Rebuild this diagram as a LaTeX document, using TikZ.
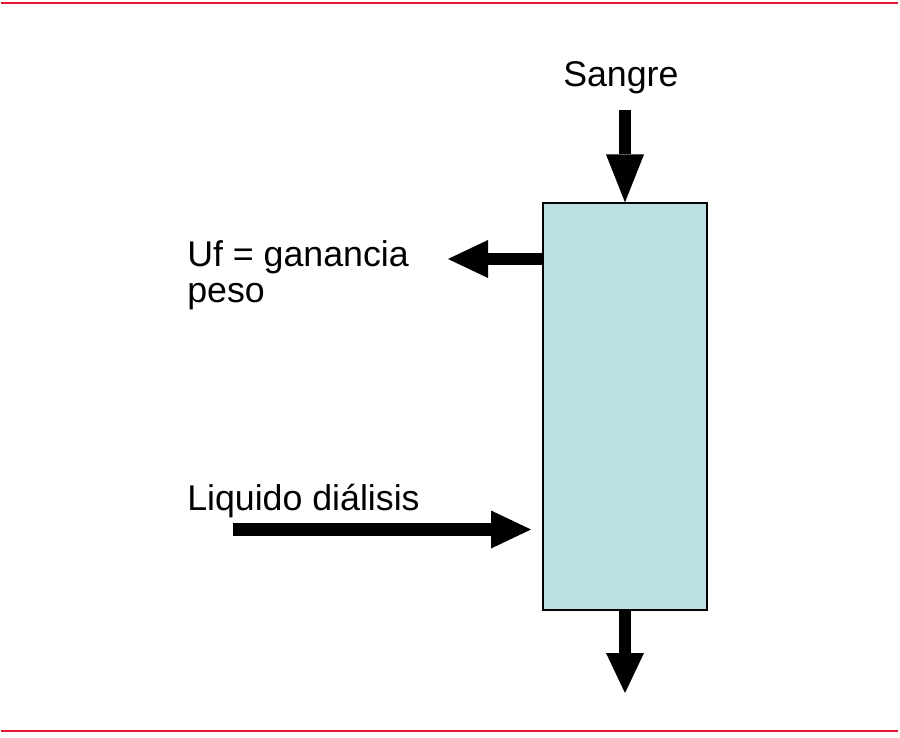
\documentclass[tikz,border=0pt]{standalone}
\usepackage{fontspec}
\setmainfont{Liberation Sans}
\usetikzlibrary{arrows.meta,calc}
\definecolor{boxblue}{RGB}{187,224,227}
\definecolor{rulered}{RGB}{228,22,52}
\begin{document}
\begin{tikzpicture}[x=0.75pt,y=-0.75pt,
  label/.style={anchor=base west,inner sep=0pt,align=left,
    font=\fontsize{26.8pt}{27pt}\selectfont},
  flow/.style={line width=9.4pt,
    -{Triangle[width=28.5pt,length=#1,line width=0pt]}},
  flow/.default=30pt,
  rule/.style={draw=rulered,line width=2.2pt}]
\useasboundingbox (0,0) rectangle (900,738);
% rules
\coordinate (rt1) at (1,3);
\coordinate (rt2) at (898,3);
\coordinate (rb1) at (1,731);
\coordinate (rb2) at (898,731);
\draw[rule] (rt1) -- (rt2);
\draw[rule] (rb1) -- (rb2);
% dialyser
\node[draw=black,line width=0.9pt,fill=boxblue,inner sep=0pt,
  minimum width=123pt,minimum height=305.25pt] (box) at (625,406.5) {};
% labels
\node[label] (sangre) at (563,87) {Sangre};
\node[label] (uf) at (187,302) {Uf = ganancia\\peso};
\node[label] (liq) at (187,510) {Liquido diálisis};
% end points
\coordinate (inblood) at (625,110);
\coordinate (outblood) at (625,693);
\coordinate (ufend) at (448,259);
\coordinate (liqstart) at (233,529.5);
\coordinate (liqend) at (531,529.5);
% arrows
\draw[flow=36pt] (inblood) -- (box.north);
\draw[flow] (box.south) -- (outblood);
\draw[flow] (box.west |- ufend) -- (ufend);
\draw[flow] (liqstart) -- (liqend);
\end{tikzpicture}
\end{document}
